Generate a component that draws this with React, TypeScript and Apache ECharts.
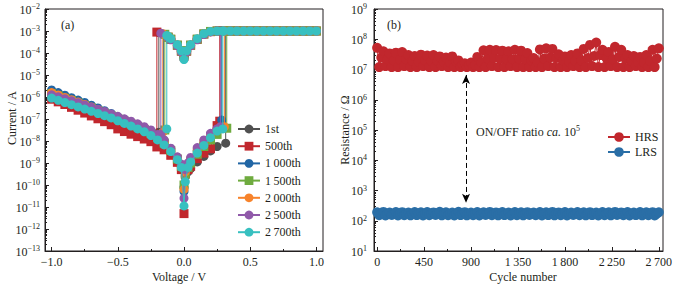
import React, { useEffect, useRef } from 'react';
import * as echarts from 'echarts';

const SERIF = '"Liberation Serif", "DejaVu Serif", "Times New Roman", serif';
const MINUS = '\u2212';
const THIN = '\u2009';
const INK = '#231f20';

// ---------- (a) I–V curves ----------
const CURVE_NAMES = ['1st', '500th', `1${THIN}000th`, `1${THIN}500th`, `2${THIN}000th`, `2${THIN}500th`, `2${THIN}700th`];
const CURVE_COLORS = ['#505050', '#c1272d', '#2166a5', '#6fab3f', '#f7832b', '#9059a9', '#37c0c0'];
const CURVE_SYMBOLS = ['circle', 'rect', 'circle', 'rect', 'circle', 'circle', 'circle'];

// voltage grid of the HRS branch, from -1 V up to 0 V
const NEG_V = [-1.0, -0.95, -0.9, -0.85, -0.8, -0.75, -0.7, -0.65, -0.6, -0.55, -0.5, -0.45, -0.4, -0.35, -0.3, -0.25, -0.2, -0.15, -0.1, -0.05, -0.02, 0];
// log10(current / A) on that grid, one list per cycle
const NEG_LOG_1ST = [-5.75, -5.87, -5.99, -6.11, -6.23, -6.35, -6.47, -6.6, -6.73, -6.86, -6.98, -7.1, -7.22, -7.35, -7.48, -7.65, -7.85, -8.1, -8.43, -8.82, -9.15, -10.1];
const NEG_LOG_500 = [-6.1, -6.22, -6.34, -6.47, -6.6, -6.73, -6.86, -6.99, -7.12, -7.26, -7.45, -7.57, -7.69, -7.8, -7.91, -8.03, -8.2, -8.4, -8.65, -8.97, -9.3, -11.3];
const NEG_LOG_1000 = [-5.68, -5.8, -5.92, -6.03, -6.14, -6.25, -6.37, -6.5, -6.62, -6.75, -6.9, -7.02, -7.14, -7.27, -7.4, -7.56, -7.75, -7.98, -8.35, -8.75, -9.1, -10.3];
const NEG_LOG_1500 = [-5.85, -5.95, -6.06, -6.17, -6.28, -6.39, -6.5, -6.62, -6.74, -6.86, -6.98, -7.1, -7.22, -7.35, -7.48, -7.65, -7.85, -8.1, -8.43, -8.82, -9.15, -10.0];
const NEG_LOG_2000 = [-5.8, -5.91, -6.02, -6.12, -6.23, -6.34, -6.45, -6.57, -6.69, -6.81, -6.95, -7.07, -7.19, -7.31, -7.44, -7.6, -7.8, -8.04, -8.38, -8.78, -9.12, -10.2];
const NEG_LOG_2500 = [-5.9, -5.99, -6.08, -6.17, -6.26, -6.36, -6.46, -6.56, -6.66, -6.77, -6.88, -6.99, -7.1, -7.22, -7.35, -7.5, -7.7, -7.95, -8.33, -8.72, -9.05, -10.6];
const NEG_LOG_2700 = [-6.05, -6.15, -6.25, -6.35, -6.45, -6.55, -6.65, -6.75, -6.85, -6.95, -7.08, -7.2, -7.32, -7.45, -7.58, -7.75, -7.95, -8.18, -8.48, -8.85, -9.2, -10.95];

// HRS branch at positive bias before SET
const POS_V = [0.01, 0.03, 0.05, 0.1, 0.15, 0.2, 0.25];
const POS_LOG_1ST = [-9.6, -9.4, -9.25, -8.95, -8.7, -8.45, -8.25];
const POS_LOG_500 = [-9.5, -9.3, -9.15, -8.8, -8.55, -8.35, -7.3];
const POS_LOG_1000 = [-9.4, -9.1, -8.85, -8.45, -8.1, -7.8, -7.45];
const POS_LOG_1500 = [-9.5, -9.2, -9.0, -8.6, -8.25, -7.95, -7.7];
const POS_LOG_2000 = [-9.4, -9.05, -8.8, -8.35, -8.0, -7.7, -7.5];
const POS_LOG_2500 = [-9.3, -9.0, -8.75, -8.3, -7.95, -7.65, -7.45];
const POS_LOG_2700 = [-9.85, -9.2, -8.95, -8.55, -8.2, -7.85, -7.55];

// SET voltage and the current just before switching
const SET_V = [0.315, 0.27, 0.285, 0.323, 0.305, 0.275, 0.293];
const SET_LOW_LOG = [-8.1, -7.1, -7.05, -7.42, -7.35, -7.35, -7.45];

// compliance plateau
const COMPLIANCE = 1e-3;
const PLATEAU_V = [0.35, 0.4, 0.45, 0.5, 0.55, 0.6, 0.65, 0.7, 0.75, 0.8, 0.85, 0.9, 0.95, 1.0];

// LRS branch on the way back
const LRS_V = [0.3, 0.25, 0.2, 0.15, 0.1, 0.05, 0.02, 0, -0.02, -0.05, -0.1, -0.12];
const LRS_LOG_1ST = [-3, -3, -3.03, -3.14, -3.38, -3.65, -3.92, -4.1, -3.92, -3.65, -3.38, -3.3];
const LRS_LOG_500 = [-3, -3, -3.03, -3.14, -3.38, -3.65, -3.92, -4.15, -3.92, -3.65, -3.38, -3.28];
const LRS_LOG_1000 = [-3, -3, -3.02, -3.13, -3.37, -3.64, -3.92, -4.2, -3.92, -3.64, -3.37, -3.28];
const LRS_LOG_1500 = [-3, -3, -3.02, -3.13, -3.37, -3.64, -3.9, -4.1, -3.9, -3.64, -3.37, -3.28];
const LRS_LOG_2000 = [-3, -3, -3.03, -3.14, -3.38, -3.66, -3.93, -4.05, -3.93, -3.66, -3.38, -3.29];
const LRS_LOG_2500 = [-3, -3, -3.04, -3.16, -3.4, -3.68, -3.95, -4.0, -3.95, -3.68, -3.4, -3.3];
const LRS_LOG_2700 = [-3, -3, -3.02, -3.12, -3.35, -3.62, -3.9, -4.3, -3.9, -3.62, -3.35, -3.25];

// RESET voltage, current before and after switching
const RESET_V = [-0.19, -0.205, -0.155, -0.145, -0.16, -0.175, -0.13];
const RESET_ON_LOG = [-3.07, -3.05, -3.15, -3.15, -3.12, -3.1, -3.2];
const RESET_OFF_LOG = [-7.6, -8.27, -7.55, -7.5, -7.6, -7.7, -7.45];

const NEG_LOGS = [NEG_LOG_1ST, NEG_LOG_500, NEG_LOG_1000, NEG_LOG_1500, NEG_LOG_2000, NEG_LOG_2500, NEG_LOG_2700];
const POS_LOGS = [POS_LOG_1ST, POS_LOG_500, POS_LOG_1000, POS_LOG_1500, POS_LOG_2000, POS_LOG_2500, POS_LOG_2700];
const LRS_LOGS = [LRS_LOG_1ST, LRS_LOG_500, LRS_LOG_1000, LRS_LOG_1500, LRS_LOG_2000, LRS_LOG_2500, LRS_LOG_2700];

// ---------- (b) endurance ----------
const CYCLE_STEP = 20;
const HRS = [
  5.2e7, 1.2e7, 2.5e7, 4.0e7, 1.3e7, 2.2e7, 3.4e7, 1.2e7, 2.0e7, 3.6e7, 1.2e7, 2.1e7, 3.8e7, 1.3e7, 2.2e7,
  3.0e7, 1.2e7, 1.9e7, 2.8e7, 1.2e7, 1.8e7, 3.1e7, 1.3e7, 2.0e7, 2.9e7, 1.2e7, 1.9e7, 3.0e7, 1.2e7, 1.9e7,
  2.7e7, 1.3e7, 1.8e7, 2.5e7, 1.2e7, 1.7e7, 2.7e7, 1.2e7, 1.8e7, 2.0e7, 1.2e7, 1.5e7, 1.6e7, 1.2e7, 1.4e7,
  1.7e7, 1.2e7, 1.4e7, 2.6e7, 1.2e7, 1.7e7, 4.3e7, 1.2e7, 2.3e7, 4.5e7, 1.3e7, 2.4e7, 4.4e7, 1.2e7, 2.3e7,
  4.2e7, 1.2e7, 2.2e7, 4.0e7, 1.3e7, 2.2e7, 4.5e7, 1.2e7, 2.3e7, 4.2e7, 1.2e7, 2.2e7, 3.5e7, 1.2e7, 2.0e7,
  2.4e7, 1.2e7, 1.7e7, 4.6e7, 1.2e7, 2.3e7, 5.0e7, 1.3e7, 2.5e7, 4.8e7, 1.2e7, 2.4e7, 3.2e7, 1.2e7, 2.0e7,
  2.7e7, 1.2e7, 1.8e7, 3.0e7, 1.3e7, 1.9e7, 3.4e7, 1.2e7, 2.0e7, 4.8e7, 1.2e7, 2.4e7, 6.5e7, 1.3e7, 2.8e7,
  7.8e7, 1.2e7, 3.0e7, 4.5e7, 1.2e7, 2.3e7, 3.8e7, 1.3e7, 2.2e7, 5.6e7, 1.2e7, 2.6e7, 4.5e7, 1.2e7, 2.3e7,
  3.0e7, 1.2e7, 1.9e7, 2.8e7, 1.3e7, 1.8e7, 2.6e7, 1.2e7, 1.7e7, 3.0e7, 1.2e7, 1.9e7, 4.5e7, 1.2e7, 2.3e7,
  5.0e7,
];
const LRS = [
  190, 152, 170, 196, 150, 172, 188, 155, 168, 194, 150, 175, 192, 153, 170,
  186, 151, 169, 195, 154, 173, 190, 150, 171, 193, 152, 168, 189, 155, 174,
  197, 151, 170, 191, 153, 172, 188, 150, 169, 198, 154, 175, 192, 151, 170,
  187, 153, 171, 194, 150, 168, 190, 155, 173, 196, 152, 170, 189, 151, 172,
  193, 154, 169, 188, 150, 174, 195, 153, 171, 190, 151, 168, 192, 155, 173,
  187, 152, 170, 194, 150, 172, 191, 154, 169, 196, 151, 175, 189, 153, 170,
  193, 150, 171, 188, 155, 168, 195, 152, 173, 190, 151, 170, 192, 154, 172,
  187, 150, 169, 194, 153, 174, 191, 151, 171, 196, 155, 168, 189, 152, 173,
  193, 150, 170, 188, 154, 172, 195, 151, 169, 190, 153, 175, 192, 150, 171,
  191,
];
const ARROW_CYCLE = 852;
const ARROW_TOP = 6.6e6;
const ARROW_BOTTOM = 3.9e2;

const X_TICKS_A = [-1, -0.5, 0, 0.5, 1];
const X_MINOR_A = [-0.75, -0.25, 0.25, 0.75];
const X_TICKS_B = [0, 450, 900, 1350, 1800, 2250, 2700];
const X_MINOR_B = [225, 675, 1125, 1575, 2025, 2475];

function logMinor(lo: number, hi: number): number[] {
  const out: number[] = [];
  for (let e = lo; e < hi; e++) for (let m = 2; m <= 9; m++) out.push(m * Math.pow(10, e));
  return out;
}

const powRich = {
  b: { fontSize: 12, fontFamily: SERIF, color: INK, verticalAlign: 'bottom', lineHeight: 13 },
  s: { fontSize: 8, fontFamily: SERIF, color: INK, verticalAlign: 'top', lineHeight: 8, padding: [0, 0, 5, 0] },
};
const powLabel = (v: number) => {
  const e = Math.round(Math.log10(v));
  return `{b|10}{s|${e < 0 ? MINUS + -e : e}}`;
};
const thousands = (v: number) => {
  const s = String(Math.round(v));
  return s.length > 3 ? s.slice(0, s.length - 3) + THIN + s.slice(-3) : s;
};

function buildCurve(i: number): number[][] {
  const pts: number[][] = [];
  NEG_V.forEach((v, k) => pts.push([v, Math.pow(10, NEG_LOGS[i][k])]));
  POS_V.forEach((v, k) => pts.push([v, Math.pow(10, POS_LOGS[i][k])]));
  pts.push([SET_V[i], Math.pow(10, SET_LOW_LOG[i])]);
  pts.push([SET_V[i], COMPLIANCE]);
  PLATEAU_V.forEach((v) => pts.push([v, COMPLIANCE]));
  LRS_V.forEach((v, k) => pts.push([v, Math.pow(10, LRS_LOGS[i][k])]));
  pts.push([RESET_V[i], Math.pow(10, RESET_ON_LOG[i])]);
  pts.push([RESET_V[i], Math.pow(10, RESET_OFF_LOG[i])]);
  return pts;
}

const axisLine = { show: true, onZero: false, lineStyle: { color: INK, width: 1 } };
const noLine = { show: false, onZero: false };

export default function App() {
  const ref = useRef<HTMLDivElement>(null);
  useEffect(() => {
    if (!ref.current) return;
    const chart = echarts.init(ref.current, null, { renderer: 'svg' });

    const ivSeries = CURVE_NAMES.map((name, i) => ({
      name,
      type: 'line',
      xAxisIndex: 0,
      yAxisIndex: 0,
      data: buildCurve(i),
      symbol: CURVE_SYMBOLS[i],
      symbolSize: 9,
      showSymbol: true,
      color: CURVE_COLORS[i],
      lineStyle: { width: 1, color: CURVE_COLORS[i] },
      itemStyle: { color: CURVE_COLORS[i] },
      z: 2 + i,
    }));

    const hrsData = HRS.map((v, k) => [k * CYCLE_STEP, v]);
    const lrsData = LRS.map((v, k) => [k * CYCLE_STEP, v]);

    const option: any = {
      animation: false,
      backgroundColor: '#fff',
      textStyle: { fontFamily: SERIF },
      grid: [
        { left: 45, top: 9, width: 278, height: 242, show: true, borderColor: INK, borderWidth: 1, backgroundColor: 'transparent' },
        { left: 374, top: 9, width: 289, height: 242, show: true, borderColor: INK, borderWidth: 1, backgroundColor: 'transparent' },
      ],
      xAxis: [
        {
          gridIndex: 0, type: 'value', min: -1.05, max: 1.05,
          axisLine, splitLine: { show: false },
          axisTick: { inside: true, length: 4, customValues: X_TICKS_A, lineStyle: { color: INK } },
          axisLabel: { customValues: X_TICKS_A, margin: 5, fontSize: 12, fontFamily: SERIF, color: INK,
            formatter: (v: number) => (v < 0 ? MINUS : '') + Math.abs(v).toFixed(1) },
        },
        {
          gridIndex: 0, type: 'value', min: -1.05, max: 1.05, position: 'bottom',
          axisLine: noLine, splitLine: { show: false }, axisLabel: { show: false },
          axisTick: { inside: true, length: 2, customValues: X_MINOR_A, lineStyle: { color: INK } },
        },
        {
          gridIndex: 1, type: 'value', min: -30, max: 2740,
          axisLine, splitLine: { show: false },
          axisTick: { inside: true, length: 4, customValues: X_TICKS_B, lineStyle: { color: INK } },
          axisLabel: { customValues: X_TICKS_B, margin: 5, fontSize: 12, fontFamily: SERIF, color: INK, formatter: thousands },
        },
        {
          gridIndex: 1, type: 'value', min: -30, max: 2740, position: 'bottom',
          axisLine: noLine, splitLine: { show: false }, axisLabel: { show: false },
          axisTick: { inside: true, length: 2, customValues: X_MINOR_B, lineStyle: { color: INK } },
        },
      ],
      yAxis: [
        {
          gridIndex: 0, type: 'log', logBase: 10, min: 1e-13, max: 1e-2, interval: 1,
          axisLine, splitLine: { show: false },
          axisTick: { inside: true, length: 4, lineStyle: { color: INK } },
          axisLabel: { margin: 5, formatter: powLabel, rich: powRich },
        },
        {
          gridIndex: 0, type: 'log', logBase: 10, min: 1e-13, max: 1e-2, position: 'left',
          axisLine: noLine, splitLine: { show: false }, axisLabel: { show: false },
          axisTick: { inside: true, length: 2, customValues: logMinor(-13, -2), lineStyle: { color: INK } },
        },
        {
          gridIndex: 1, type: 'log', logBase: 10, min: 1e1, max: 1e9, interval: 1,
          axisLine, splitLine: { show: false },
          axisTick: { inside: true, length: 4, lineStyle: { color: INK } },
          axisLabel: { margin: 7, formatter: powLabel, rich: powRich },
        },
        {
          gridIndex: 1, type: 'log', logBase: 10, min: 1e1, max: 1e9, position: 'left',
          axisLine: noLine, splitLine: { show: false }, axisLabel: { show: false },
          axisTick: { inside: true, length: 2, customValues: logMinor(1, 9), lineStyle: { color: INK } },
        },
      ],
      legend: [
        {
          data: CURVE_NAMES, orient: 'vertical', left: 232, top: 118,
          itemWidth: 22, itemHeight: 11, itemGap: 5.2,
          textStyle: { fontSize: 12, fontFamily: SERIF, color: INK, lineHeight: 12 },
        },
        {
          data: ['HRS', 'LRS'], orient: 'vertical', left: 602, top: 126,
          itemWidth: 22, itemHeight: 12, itemGap: 3,
          textStyle: { fontSize: 12, fontFamily: SERIF, color: INK, lineHeight: 12 },
        },
      ],
      series: [
        ...ivSeries,
        {
          name: 'HRS', type: 'line', xAxisIndex: 2, yAxisIndex: 2, data: hrsData,
          symbol: 'circle', symbolSize: 10, showSymbol: true,
          color: '#c1272d', lineStyle: { width: 1, color: '#c1272d' }, itemStyle: { color: '#c1272d' },
          markLine: {
            silent: true, symbol: ['arrow', 'arrow'], symbolSize: [6, 9],
            lineStyle: { type: [5, 3], color: '#000', width: 1 }, label: { show: false },
            data: [[{ coord: [ARROW_CYCLE, ARROW_TOP] }, { coord: [ARROW_CYCLE, ARROW_BOTTOM] }]],
          },
        },
        {
          name: 'LRS', type: 'line', xAxisIndex: 2, yAxisIndex: 2, data: lrsData,
          symbol: 'circle', symbolSize: 10, showSymbol: true,
          color: '#2a6ea6', lineStyle: { width: 1, color: '#2a6ea6' }, itemStyle: { color: '#2a6ea6' },
        },
      ],
      graphic: [
        { type: 'text', x: 61, y: 25, style: { text: '(a)', fontSize: 12, fontFamily: SERIF, fill: INK, textAlign: 'left', textVerticalAlign: 'middle' } },
        { type: 'text', x: 387, y: 25, style: { text: '(b)', fontSize: 12, fontFamily: SERIF, fill: INK, textAlign: 'left', textVerticalAlign: 'middle' } },
        { type: 'text', x: 179, y: 277, style: { text: 'Voltage / V', fontSize: 12, fontFamily: SERIF, fill: INK, textAlign: 'center', textVerticalAlign: 'middle' } },
        { type: 'text', x: 523, y: 277, style: { text: 'Cycle number', fontSize: 12, fontFamily: SERIF, fill: INK, textAlign: 'center', textVerticalAlign: 'middle' } },
        { type: 'text', x: 12, y: 118, rotation: Math.PI / 2, style: { text: 'Current / A', fontSize: 12, fontFamily: SERIF, fill: INK, textAlign: 'center', textVerticalAlign: 'middle' } },
        { type: 'text', x: 345, y: 130, rotation: Math.PI / 2, style: { text: 'Resistance / \u03a9', fontSize: 12, fontFamily: SERIF, fill: INK, textAlign: 'center', textVerticalAlign: 'middle' } },
        {
          type: 'text', x: 476, y: 131,
          style: {
            text: '{n|ON/OFF ratio }{i|ca.}{n| 10}{s|5}',
            textAlign: 'left', textVerticalAlign: 'middle',
            rich: {
              n: { fontSize: 12, fontFamily: SERIF, fill: INK, color: INK, verticalAlign: 'bottom', lineHeight: 13 },
              i: { fontSize: 12, fontFamily: SERIF, fontStyle: 'italic', fill: INK, color: INK, verticalAlign: 'bottom', lineHeight: 13 },
              s: { fontSize: 8, fontFamily: SERIF, fill: INK, color: INK, verticalAlign: 'top', lineHeight: 8, padding: [0, 0, 5, 0] },
            },
          },
        },
      ],
    };

    chart.setOption(option);
    return () => chart.dispose();
  }, []);

  return <div ref={ref} style={{ position: 'fixed', left: 0, top: 0, width: 680, height: 287, background: '#fff' }} />;
}
